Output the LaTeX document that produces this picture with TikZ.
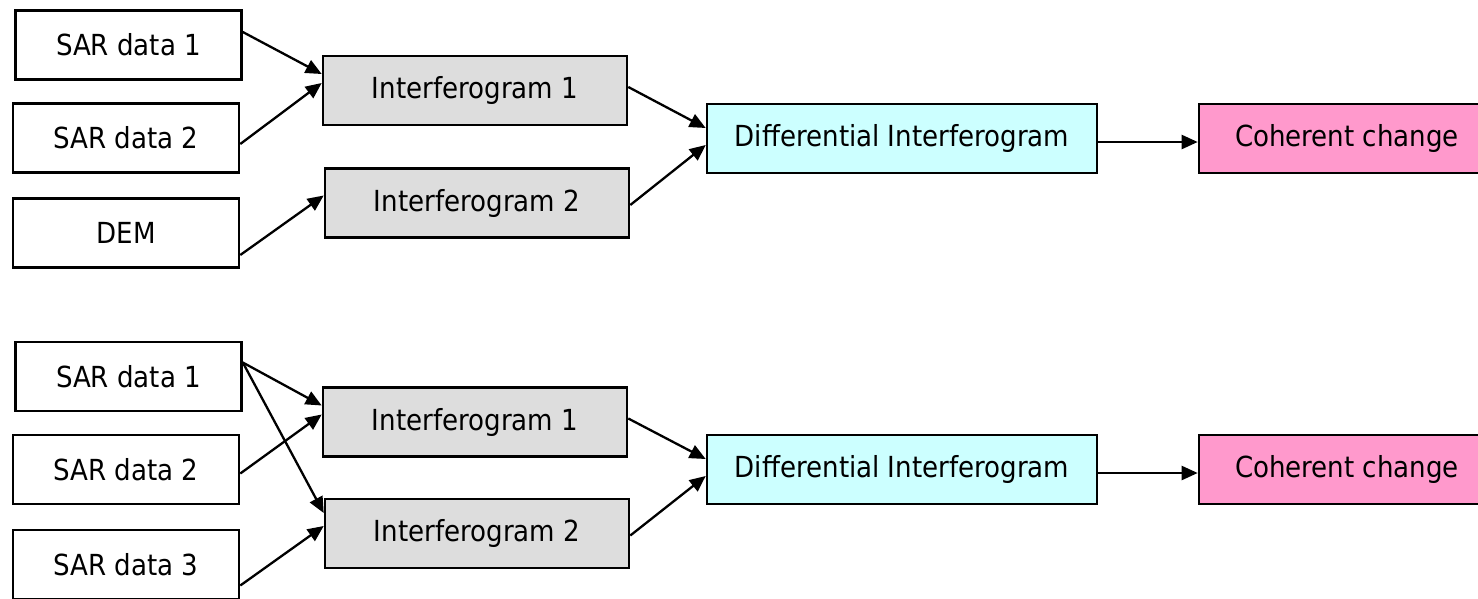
\documentclass[tikz,border=0pt]{standalone}
\usepackage{fontspec}
\setmainfont{DejaVu Sans Condensed}
\usepackage{xcolor}
\usetikzlibrary{arrows.meta}
\definecolor{igrey}{HTML}{DDDDDD}
\definecolor{dcyan}{HTML}{CCFFFF}
\definecolor{cpink}{HTML}{FF99CC}
\tikzset{
  box/.style={draw, line width=2.6pt, minimum height=69pt, inner sep=0pt,
    font=\fontsize{29}{35}\selectfont},
  sarbox/.style={box, minimum width=226pt},
  ifbox/.style={box, fill=igrey, minimum width=304pt},
  diffbox/.style={box, fill=dcyan, minimum width=390pt},
  cohbox/.style={box, fill=cpink, minimum width=296pt},
  arr/.style={line width=2.3pt, -{Triangle[length=16pt,width=14pt]}}
}
\begin{document}
\begin{tikzpicture}[x=1pt,y=-1pt]
  \useasboundingbox (0,0) rectangle (1478,598);
  \node[sarbox] (sa) at (128.5,45) {SAR data 1};
  \node[sarbox] (sb) at (126,138) {SAR data 2};
  \node[sarbox] (dem) at (126,233) {DEM};
  \node[ifbox] (ia) at (475,90.5) {Interferogram 1};
  \node[ifbox] (ib) at (477,203) {Interferogram 2};
  \node[diffbox] (da) at (902,138.5) {Differential Interferogram};
  \node[cohbox] (ca) at (1347,138.5) {Coherent change};
  \draw[arr] ([yshift=13pt]sa.east) -- ([yshift=16.5pt]ia.west);
  \draw[arr] ([yshift=-6pt]sb.east) -- ([yshift=7.5pt]ia.west);
  \draw[arr] ([yshift=-22pt]dem.east) -- ([yshift=7.5pt]ib.west);
  \draw[arr] ([yshift=3.5pt]ia.east) -- ([yshift=10.5pt]da.west);
  \draw[arr] ([yshift=-2pt]ib.east) -- ([yshift=-6.5pt]da.west);
  \draw[arr] ([yshift=-3.5pt]da.east) -- ([yshift=-3.5pt]ca.west);

  \node[sarbox] (sc) at (128.5,376.5) {SAR data 1};
  \node[sarbox] (sd) at (126,469.5) {SAR data 2};
  \node[sarbox] (se) at (126,564.5) {SAR data 3};
  \node[ifbox] (ic) at (475,422) {Interferogram 1};
  \node[ifbox] (id) at (477,533.5) {Interferogram 2};
  \node[diffbox] (db) at (902,469.5) {Differential Interferogram};
  \node[cohbox] (cb) at (1347,469.5) {Coherent change};
  \draw[arr] ([yshift=14pt]sc.east) -- ([yshift=16.5pt]ic.west);
  \draw[arr] ([yshift=14pt]sc.east) -- ([yshift=20.5pt]id.west);
  \draw[arr] ([yshift=-4pt]sd.east) -- ([yshift=7.5pt]ic.west);
  \draw[arr] ([yshift=-21pt]se.east) -- ([yshift=7.5pt]id.west);
  \draw[arr] ([yshift=3.5pt]ic.east) -- ([yshift=10.5pt]db.west);
  \draw[arr] ([yshift=-2pt]id.east) -- ([yshift=-6.5pt]db.west);
  \draw[arr] ([yshift=-3.5pt]db.east) -- ([yshift=-3.5pt]cb.west);
\end{tikzpicture}
\end{document}
